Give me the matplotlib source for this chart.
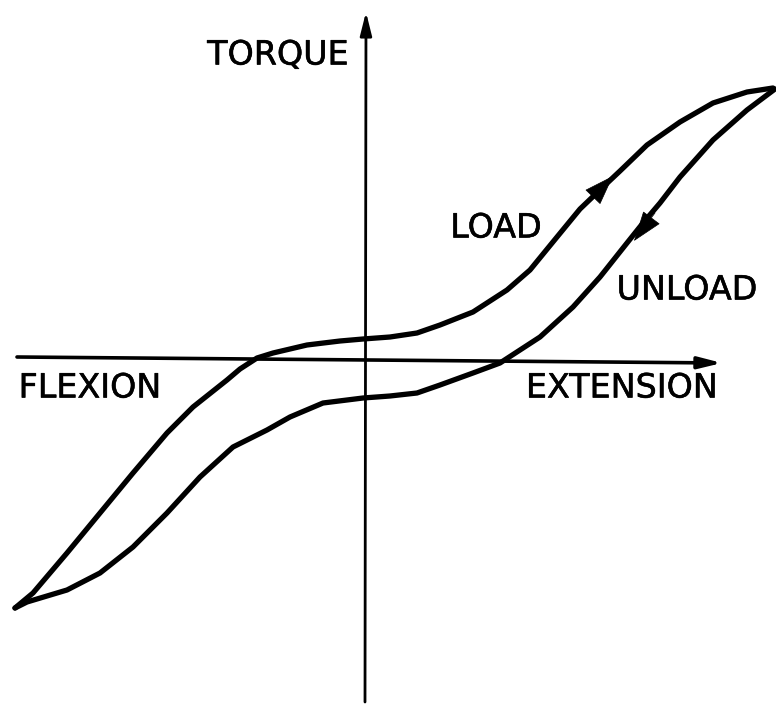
import matplotlib.pyplot as plt
import matplotlib.patheffects as pe

# joint angle (x) and torque (y), in drawing units; origin where the axes cross
load_angle = [-350, -332, -298, -265, -232, -198, -172, -138, -125, -108, -92, -58, -25,
              -2, 25, 52, 75, 108, 142, 165, 192, 215, 238, 255, 282, 315, 348, 382, 408]
load_torque = [-248, -233, -193, -153, -113, -73, -47, -20, -9, 2, 7, 15, 19,
               21, 23, 27, 35, 48, 70, 90, 123, 151, 173, 189, 215, 238, 257, 268, 272]

unload_angle = [410, 382, 348, 315, 295, 278, 262, 235, 208, 175, 155, 135, 108, 75,
                52, 25, -2, -42, -75, -98, -132, -165, -198, -232, -265, -298, -338, -350]
unload_torque = [271, 250, 220, 183, 157, 137, 117, 83, 53, 23, 10, -3, -13, -25,
                 -33, -36, -38, -43, -57, -70, -87, -117, -153, -187, -213, -230, -242, -248]

# direction arrows on each branch (tail -> tip)
load_arrow = [(224, 159), (248, 184)]
unload_arrow = [(290, 147), (269, 119)]

labels = {
    "TORQUE": (-87, 305),
    "FLEXION": (-275, -28),
    "EXTENSION": (257, -28),
    "LOAD": (131, 132),
    "UNLOAD": (322, 70),
}

fig = plt.figure(figsize=(7.76, 7.04), dpi=100)
ax = fig.add_axes([0, 0, 1, 1])
ax.set_xlim(-365, 411)
ax.set_ylim(-344, 360)
ax.axis("off")

# axes with arrowheads
ax.annotate("", xy=(1, 348), xytext=(0, -342),
            arrowprops=dict(arrowstyle="-|>,head_length=1.4,head_width=0.35",
                            lw=2.0, color="black", shrinkA=0, shrinkB=0))
ax.annotate("", xy=(357, -3), xytext=(-348, 3),
            arrowprops=dict(arrowstyle="-|>,head_length=1.4,head_width=0.35",
                            lw=2.6, color="black", shrinkA=0, shrinkB=0))

ax.plot(load_angle, load_torque, color="black", lw=3.8, solid_capstyle="round",
        solid_joinstyle="round")
ax.plot(unload_angle, unload_torque, color="black", lw=3.8, solid_capstyle="round",
        solid_joinstyle="round")

for (x0, y0), (x1, y1) in [load_arrow, unload_arrow]:
    ax.annotate("", xy=(x1, y1), xytext=(x0, y0),
                arrowprops=dict(arrowstyle="-|>,head_length=2.0,head_width=0.7",
                                lw=0.5, color="black", shrinkA=0, shrinkB=0))

for text, (x, y) in labels.items():
    ax.text(x, y, text, fontsize=24, ha="center", va="center", family="DejaVu Sans",
            path_effects=[pe.withStroke(linewidth=0.4, foreground="black")])

fig.savefig("out.png", dpi=100)
